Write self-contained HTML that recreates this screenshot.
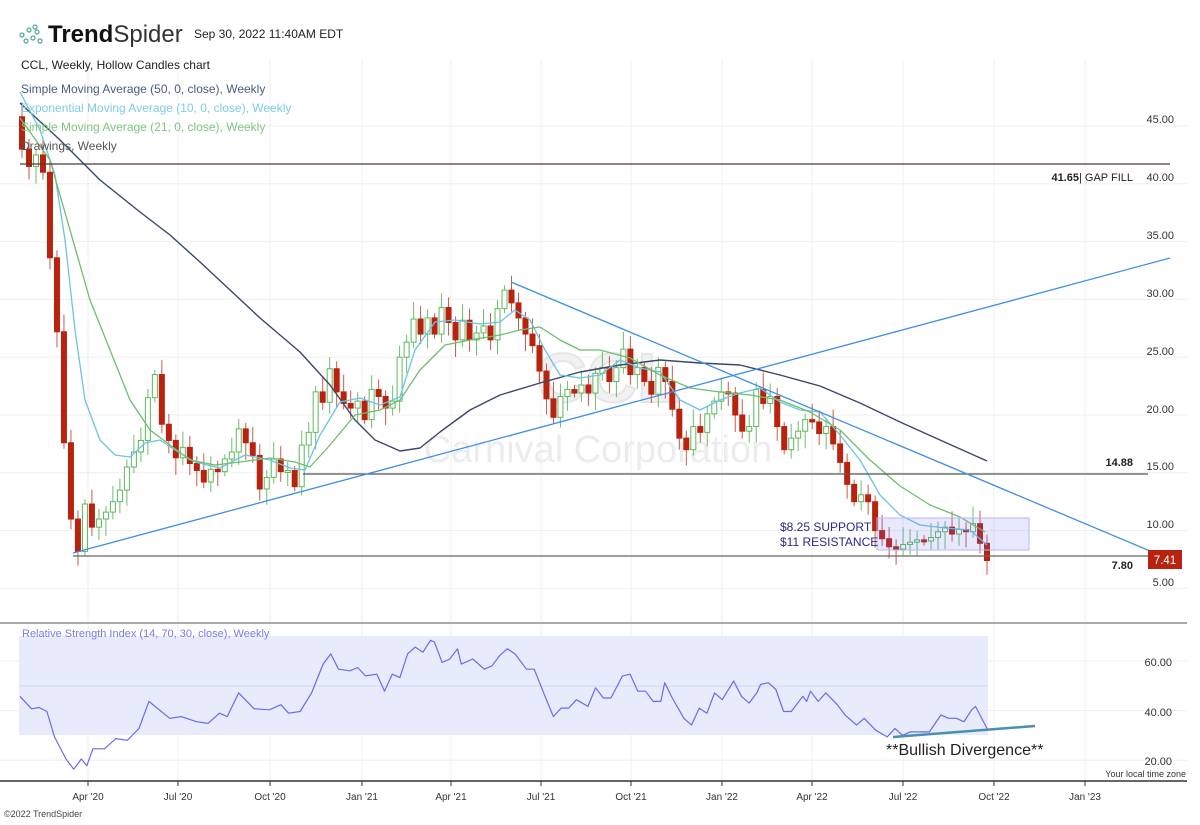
<!DOCTYPE html>
<html><head><meta charset="utf-8"><style>
html,body{margin:0;padding:0;background:#fff;}
svg{display:block;font-family:"Liberation Sans",sans-serif;}
</style></head><body>
<svg id="s" width="1200" height="825" viewBox="0 0 1200 825" xmlns="http://www.w3.org/2000/svg">
<rect width="1200" height="825" fill="#fff"/>
<g id="grid" stroke="#efefef" stroke-width="1"></g>
<text x="608" y="402" font-size="70" font-weight="bold" fill="#f1f1f1" stroke="#e6e6e6" stroke-width="2" text-anchor="middle">CCL</text>
<text x="598" y="462" font-size="38" fill="#ececec" text-anchor="middle">Carnival Corporation</text>
<rect x="19" y="636" width="969" height="99" fill="#e8ebfb"/>
<line x1="19" y1="686" x2="988" y2="686" stroke="#d3d8f0"/>
<g id="cand"></g>
<g id="ma" fill="none"></g>
<line x1="20" y1="164" x2="1170" y2="164" stroke="#4a3a3a" stroke-width="1.3"/>
<line x1="303" y1="474" x2="1148" y2="474" stroke="#555" stroke-width="1.3"/>
<line x1="73" y1="556" x2="1148" y2="556" stroke="#666" stroke-width="1.3"/>
<line x1="73" y1="553" x2="1170" y2="258" stroke="#3d8fe6" stroke-width="1.3"/>
<line x1="511" y1="282" x2="1150" y2="551" stroke="#3d8fe6" stroke-width="1.3"/>
<rect x="877" y="518" width="152" height="32" fill="rgba(110,110,255,0.16)" stroke="#b8b8f5"/>
<text x="780" y="531" font-size="12" fill="#2a2a8a">$8.25 SUPPORT</text>
<text x="780" y="546" font-size="12" fill="#2a2a8a">$11 RESISTANCE</text>
<text x="1133" y="181" font-size="11" fill="#222" text-anchor="end"><tspan font-weight="bold">41.65</tspan>| GAP FILL</text>
<text x="1133" y="466" font-size="11" fill="#222" font-weight="bold" text-anchor="end">14.88</text>
<text x="1133" y="569" font-size="11" fill="#222" font-weight="bold" text-anchor="end">7.80</text>
<g font-size="11" fill="#333" text-anchor="end">
<text x="1174" y="123">45.00</text><text x="1174" y="181">40.00</text><text x="1174" y="239">35.00</text>
<text x="1174" y="297">30.00</text><text x="1174" y="355">25.00</text><text x="1174" y="413">20.00</text>
<text x="1174" y="470">15.00</text><text x="1174" y="528">10.00</text><text x="1174" y="586">5.00</text>
<text x="1172" y="666">60.00</text><text x="1172" y="716">40.00</text><text x="1172" y="765">20.00</text>
</g>
<rect x="1148" y="550" width="34" height="19" fill="#b8230f"/>
<text x="1165" y="564" font-size="11.5" fill="#fff" text-anchor="middle">7.41</text>
<line x1="0" y1="623" x2="1187" y2="623" stroke="#aaa" stroke-width="2"/>
<g id="rsi" fill="none"></g>
<line x1="893" y1="737" x2="1035" y2="726" stroke="#4a8fb0" stroke-width="2.5"/>
<text x="886" y="755" font-size="16" fill="#222">**Bullish Divergence**</text>
<text x="22" y="637" font-size="11" fill="#7a7ae8">Relative Strength Index (14, 70, 30, close), Weekly</text>
<text x="1186" y="777" font-size="9" fill="#333" text-anchor="end">Your local time zone</text>
<line x1="0" y1="781" x2="1187" y2="781" stroke="#333" stroke-width="1.5"/>
<g id="xt" font-size="10" fill="#333" text-anchor="middle"></g>
<text x="4" y="817" font-size="9" fill="#444">©2022 TrendSpider</text>
<g fill="none" stroke="#4ea89a" stroke-width="1.2">
<circle cx="22" cy="35" r="2"/><circle cx="29" cy="30" r="2"/><circle cx="35" cy="27" r="2"/><circle cx="26" cy="41" r="2"/><circle cx="33" cy="38" r="2"/><circle cx="40" cy="41" r="2"/><circle cx="37" cy="32" r="2"/>
</g>
<text x="48" y="42" font-size="24" font-weight="bold" fill="#111">Trend<tspan font-weight="normal" fill="#333">Spider</tspan></text>
<text x="194" y="38" font-size="12" fill="#222">Sep 30, 2022 11:40AM EDT</text>
<text x="21" y="69" font-size="12" fill="#222">CCL, Weekly, Hollow Candles chart</text>
<text x="21" y="93" font-size="12" fill="#4e5b82">Simple Moving Average (50, 0, close), Weekly</text>
<text x="21" y="112" font-size="12" fill="#7fcbe8">Exponential Moving Average (10, 0, close), Weekly</text>
<text x="21" y="131" font-size="12" fill="#7fc77f">Simple Moving Average (21, 0, close), Weekly</text>
<text x="21" y="150" font-size="12" fill="#555">Drawings, Weekly</text>
</svg>
<script>
var NS="http://www.w3.org/2000/svg";
function el(p,t,a){var e=document.createElementNS(NS,t);for(var k in a)e.setAttribute(k,a[k]);document.getElementById(p).appendChild(e);return e;}
function Y(p){return 126+(45-p)*11.56;}
[88,178,270,362,451,541,631,722,812,903,994,1085].forEach(function(x){el("grid","line",{x1:x,y1:60,x2:x,y2:781});});
[45,40,35,30,25,20,15,10,5].forEach(function(p){el("grid","line",{x1:0,y1:Y(p),x2:1187,y2:Y(p)});});
[60,40,20].forEach(function(v){var y=661+(60-v)*2.48;el("grid","line",{x1:0,y1:y,x2:1187,y2:y});});
var xl=["Apr '20","Jul '20","Oct '20","Jan '21","Apr '21","Jul '21","Oct '21","Jan '22","Apr '22","Jul '22","Oct '22","Jan '23"];
[88,178,270,362,451,541,631,722,812,903,994,1085].forEach(function(x,i){el("xt","line",{x1:x,y1:781,x2:x,y2:786,stroke:"#333"});var t=el("xt","text",{x:x,y:800});t.textContent=xl[i];});
var C=[45,43,41.5,42.5,41,33.6,27.2,17.6,11,8.2,12.3,10.3,11,11.6,12.5,13.5,15.5,16.8,17.8,21.5,23.5,19.2,17.8,16.3,17.2,15.8,15.2,14.2,15.3,15.1,16.2,16.8,18.8,17.6,16.5,13.6,14.6,16.2,15.1,15.2,13.8,17.4,18.5,22,21.1,24,22,21,20.6,21.2,19.6,22.2,21.6,20.6,21.2,25,26.3,28.3,27,28.4,27,29.3,28,26.5,28.2,26.5,27.1,27.7,26.5,29.2,30.8,29.7,28.4,27,26,23.8,21.4,19.8,21.6,22.2,21.9,22.6,21.9,23.6,24.1,22.9,24.1,25.7,23.5,24.1,22.9,21.8,24.1,22.9,20.5,18,17,19,18.5,20.1,21.2,22,21.9,20,18.6,19,22.2,21,21.6,19,17,18,18.6,19.6,19.4,18.4,19,17.5,15.9,14,12.5,13.1,12.5,10,9.3,8.6,8.4,8.8,9,9.2,9.1,9.4,9.9,10.3,9.7,10.1,9.9,10.6,8.9,7.41];
var N=C.length-2;
for(var i=1;i<C.length;i++){var x=22+(i-1)*965/N,o=C[i-1],c=C[i];
 if(i==1)o=45.8;
 var hi=Math.max(o,c)+0.4+((i*37)%10)/10*1.2,lo=Math.min(o,c)-0.4-((i*53)%10)/10*1.2;
 var up=c>o,col=up?"#5cb85c":"#b8230f";
 el("cand","line",{x1:x,y1:Y(hi),x2:x,y2:Y(lo),stroke:col,"stroke-opacity":up?0.9:0.75});
 var t=Y(Math.max(o,c)),h=Math.max(2,Y(Math.min(o,c))-t);
 el("cand","rect",{x:x-2.5,y:t,width:5,height:h,fill:up?"#fff":col,stroke:col,"stroke-width":1});
}
function pl(g,pts,col,w){el(g,"polyline",{points:pts.map(function(p){return p.join(",")}).join(" "),stroke:col,"stroke-width":w,"stroke-linejoin":"round"});}
pl("ma",[[20,103],[60,140],[100,180],[140,212],[170,235],[200,262],[230,290],[260,318],[300,352],[330,385],[355,420],[375,440],[400,451],[420,448],[440,432],[470,410],[500,395],[540,383],[580,372],[620,365],[660,360],[700,363],[740,365],[780,375],[820,386],[860,403],[900,422],[940,440],[987,461]],"#3a476b",1.4);
pl("ma",[[20,92],[40,130],[55,175],[65,240],[75,330],[85,400],[100,440],[115,455],[130,457],[145,443],[160,440],[175,450],[195,462],[220,468],[245,455],[270,460],[290,468],[305,470],[320,435],[340,402],[360,398],[380,405],[400,397],[415,350],[435,322],[455,320],[480,324],[500,322],[515,310],[530,320],[545,350],[560,375],[580,378],[600,375],[620,360],[640,368],[660,372],[680,400],[700,410],[720,400],[740,393],[760,388],[780,402],[800,410],[820,412],[840,435],[860,460],[880,495],[900,515],[920,525],[945,528],[970,530],[987,545]],"#6cc3e3",1.3);
pl("ma",[[20,118],[50,160],[70,230],[90,300],[110,350],[130,400],[150,430],[170,445],[190,460],[215,465],[240,462],[270,458],[295,462],[310,467],[330,445],[355,415],[380,410],[400,400],[420,370],[445,345],[470,340],[500,335],[520,330],[540,327],[560,340],[580,350],[600,350],[630,358],[660,375],[690,388],[720,392],[750,395],[780,400],[810,412],[840,430],[870,460],[900,486],[930,505],[960,517],[985,532]],"#6cbf6c",1.3);
var R=[[25,225],[40,262],[50,258],[60,270],[70,345],[85,410],[95,440],[105,410],[112,430],[120,380],[135,380],[150,350],[165,355],[180,320],[193,240],[220,290],[235,285],[255,300],[270,305],[285,275],[295,285],[310,215],[330,262],[350,265],[365,250],[375,275],[390,270],[405,215],[420,130],[430,100],[440,145],[455,150],[465,140],[475,165],[490,160],[500,210],[510,160],[520,170],[530,100],[540,80],[550,95],[560,60],[565,65],[575,125],[585,115],[595,85],[600,130],[615,115],[630,145],[640,135],[650,105],[660,85],[670,100],[685,145],[695,145],[710,230],[720,285],[730,260],[740,260],[750,235],[765,255],[775,200],[785,230],[795,230],[810,165],[820,160],[830,210],[840,210],[850,240],[860,240],[865,185],[875,230],[890,290],[900,310],[910,260],[920,275],[930,215],[940,235],[955,180],[965,225],[975,245],[985,215],[990,190],[1000,185],[1010,205],[1020,270],[1030,270],[1045,225],[1050,240],[1055,210],[1065,240],[1075,215],[1090,250],[1100,280],[1115,310],[1125,290],[1140,325],[1155,345],[1165,320],[1175,340],[1185,330],[1200,330],[1210,330],[1225,280],[1235,290],[1245,290],[1255,300],[1265,265],[1270,255],[1285,320]];
pl("rsi",R.map(function(p){return [(20+(p[0]-25)*967/1260).toFixed(1),(620+p[1]/2.95).toFixed(1)];}),"#6a6aee",1.2);
</script>
</body></html>
